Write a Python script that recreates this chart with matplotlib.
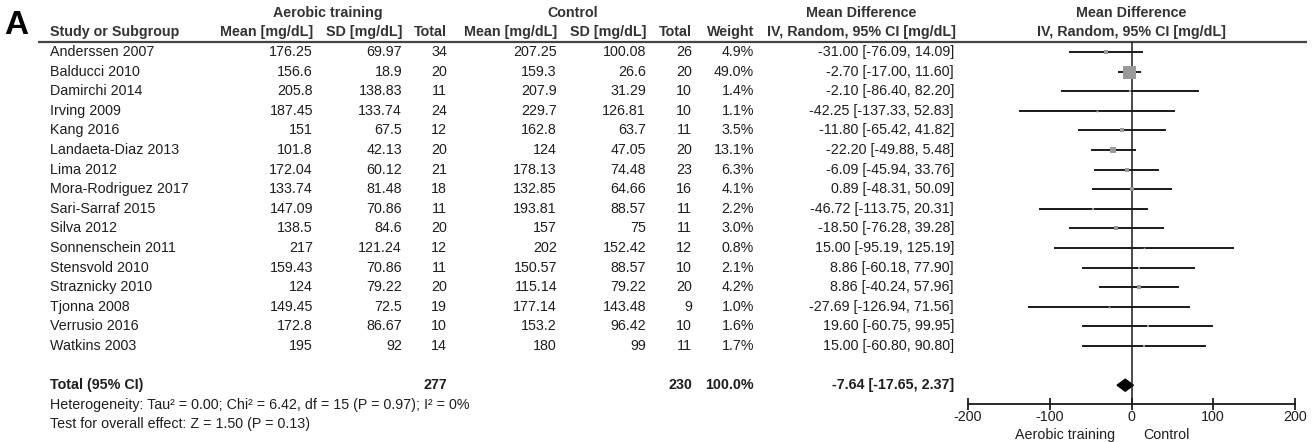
import numpy as np
import matplotlib.pyplot as plt
from matplotlib.patches import Polygon

plt.rcParams['font.family'] = ['Liberation Sans', 'DejaVu Sans']

# Data per studi
studies = ["Anderssen 2007", "Balducci 2010", "Damirchi 2014", "Irving 2009", "Kang 2016",
           "Landaeta-Diaz 2013", "Lima 2012", "Mora-Rodriguez 2017", "Sari-Sarraf 2015",
           "Silva 2012", "Sonnenschein 2011", "Stensvold 2010", "Straznicky 2010",
           "Tjonna 2008", "Verrusio 2016", "Watkins 2003"]
aer_mean = [176.25, 156.6, 205.8, 187.45, 151, 101.8, 172.04, 133.74, 147.09, 138.5,
            217, 159.43, 124, 149.45, 172.8, 195]
aer_sd = [69.97, 18.9, 138.83, 133.74, 67.5, 42.13, 60.12, 81.48, 70.86, 84.6,
          121.24, 70.86, 79.22, 72.5, 86.67, 92]
aer_n = [34, 20, 11, 24, 12, 20, 21, 18, 11, 20, 12, 11, 20, 19, 10, 14]
ctl_mean = [207.25, 159.3, 207.9, 229.7, 162.8, 124, 178.13, 132.85, 193.81, 157,
            202, 150.57, 115.14, 177.14, 153.2, 180]
ctl_sd = [100.08, 26.6, 31.29, 126.81, 63.7, 47.05, 74.48, 64.66, 88.57, 75,
          152.42, 88.57, 79.22, 143.48, 96.42, 99]
ctl_n = [26, 20, 10, 10, 11, 20, 23, 16, 11, 11, 12, 10, 20, 9, 10, 11]
weight = [4.9, 49.0, 1.4, 1.1, 3.5, 13.1, 6.3, 4.1, 2.2, 3.0, 0.8, 2.1, 4.2, 1.0, 1.6, 1.7]
md = [-31.00, -2.70, -2.10, -42.25, -11.80, -22.20, -6.09, 0.89, -46.72, -18.50,
      15.00, 8.86, 8.86, -27.69, 19.60, 15.00]
ci_lo = [-76.09, -17.00, -86.40, -137.33, -65.42, -49.88, -45.94, -48.31, -113.75, -76.28,
         -95.19, -60.18, -40.24, -126.94, -60.75, -60.80]
ci_hi = [14.09, 11.60, 82.20, 52.83, 41.82, 5.48, 33.76, 50.09, 20.31, 39.28,
         125.19, 77.90, 57.96, 71.56, 99.95, 90.80]

# Total (random effect)
tot_aer_n = 277
tot_ctl_n = 230
tot_weight = 100.0
tot_md, tot_lo, tot_hi = -7.64, -17.65, 2.37
heterogeneity = "Heterogeneity: Tau\u00b2 = 0.00; Chi\u00b2 = 6.42, df = 15 (P = 0.97); I\u00b2 = 0%"
overall = "Test for overall effect: Z = 1.50 (P = 0.13)"
xticks = [-200, -100, 0, 100, 200]

W, H = 1313, 442
fig = plt.figure(figsize=(W / 100, H / 100), dpi=100)

# lapisan teks pakai koordinat piksel
ax0 = fig.add_axes([0, 0, 1, 1])
ax0.set_xlim(0, W)
ax0.set_ylim(H, 0)
ax0.axis("off")

row0, dy = 52, 19.6
def row_y(r):
    return row0 + dy * r

txt = "#1e1e1e"
hdr = "#333333"
fs = 10.3

# judul kolom
ax0.text(4, 25, "A", fontsize=24, fontweight="bold", color="black", va="center")
ax0.text(328, 13, "Aerobic training", fontsize=fs, fontweight="bold", color=hdr, ha="center", va="center")
ax0.text(573, 13, "Control", fontsize=fs, fontweight="bold", color=hdr, ha="center", va="center")
ax0.text(861, 13, "Mean Difference", fontsize=fs, fontweight="bold", color=hdr, ha="center", va="center")
ax0.text(1131, 13, "Mean Difference", fontsize=fs, fontweight="bold", color=hdr, ha="center", va="center")

cols = [(50, "left", "Study or Subgroup"), (313, "right", "Mean [mg/dL]"), (402, "right", "SD [mg/dL]"),
        (447, "right", "Total"), (557, "right", "Mean [mg/dL]"), (646, "right", "SD [mg/dL]"),
        (692, "right", "Total"), (754, "right", "Weight")]
for x, ha, lab in cols:
    ax0.text(x, 32, lab, fontsize=fs, fontweight="bold", color=hdr, ha=ha, va="center")
ax0.text(861, 32, "IV, Random, 95% CI [mg/dL]", fontsize=fs, fontweight="bold", color=hdr, ha="center", va="center")
ax0.text(1131, 32, "IV, Random, 95% CI [mg/dL]", fontsize=fs, fontweight="bold", color=hdr, ha="center", va="center")
ax0.plot([38, 1307], [42, 42], color="#444", lw=1.6, solid_capstyle="butt")

# isi tabel
for i in range(len(studies)):
    y = row_y(i)
    vals = [(50, "left", studies[i]), (313, "right", f"{aer_mean[i]:g}"), (402, "right", f"{aer_sd[i]:g}"),
            (447, "right", str(aer_n[i])), (557, "right", f"{ctl_mean[i]:g}"), (646, "right", f"{ctl_sd[i]:g}"),
            (692, "right", str(ctl_n[i])), (754, "right", f"{weight[i]:.1f}%"),
            (954, "right", f"{md[i]:.2f} [{ci_lo[i]:.2f}, {ci_hi[i]:.2f}]")]
    for x, ha, s in vals:
        ax0.text(x, y, s, fontsize=fs, color=txt, ha=ha, va="center")

yt = row_y(17)
ax0.text(50, yt, "Total (95% CI)", fontsize=fs, fontweight="bold", color=txt, va="center")
ax0.text(447, yt, str(tot_aer_n), fontsize=fs, fontweight="bold", color=txt, ha="right", va="center")
ax0.text(692, yt, str(tot_ctl_n), fontsize=fs, fontweight="bold", color=txt, ha="right", va="center")
ax0.text(754, yt, f"{tot_weight:.1f}%", fontsize=fs, fontweight="bold", color=txt, ha="right", va="center")
ax0.text(954, yt, f"{tot_md:.2f} [{tot_lo:.2f}, {tot_hi:.2f}]", fontsize=fs, fontweight="bold",
         color=txt, ha="right", va="center")
ax0.text(50, row_y(18), heterogeneity, fontsize=fs, color=txt, va="center")
ax0.text(50, row_y(19), overall, fontsize=fs, color=txt, va="center")

ax0.text(1115, 435, "Aerobic training", fontsize=fs, color=txt, ha="right", va="center")
ax0.text(1143, 435, "Control", fontsize=fs, color=txt, ha="left", va="center")

# forest plot
top_px, bot_px = 42, 404
left_px, right_px = 968, 1295
ax = fig.add_axes([left_px / W, (H - bot_px) / H, (right_px - left_px) / W, (bot_px - top_px) / H])
ax.set_xlim(-200, 200)
ax.set_ylim((bot_px - row0) / dy, (top_px - row0) / dy)
ax.patch.set_alpha(0)
for s in ["top", "left", "right"]:
    ax.spines[s].set_visible(False)
ax.spines["bottom"].set_linewidth(1.3)
ax.spines["bottom"].set_color("#1a1a1a")
ax.set_yticks([])
ax.set_xticks(xticks)
ax.set_xticklabels([str(t) for t in xticks])
ax.tick_params(axis="x", direction="inout", length=9, width=1.3, pad=0, labelsize=fs, colors=txt)

ax.axvline(0, color="#1a1a1a", lw=1.1)
rows = np.arange(len(studies))
ax.hlines(rows, ci_lo, ci_hi, color="#1a1a1a", lw=1.4)
for i in rows:
    side = 13 * np.sqrt(weight[i] / 49.0) * 0.72
    ax.plot(md[i], i, marker="s", markersize=side, color="#9a9a9a", markeredgewidth=0)

h = 6 / dy
diamond = Polygon([[tot_lo, 17], [tot_md, 17 - h], [tot_hi, 17], [tot_md, 17 + h]],
                  closed=True, color="black")
ax.add_patch(diamond)

fig.savefig("out.png", dpi=100)
